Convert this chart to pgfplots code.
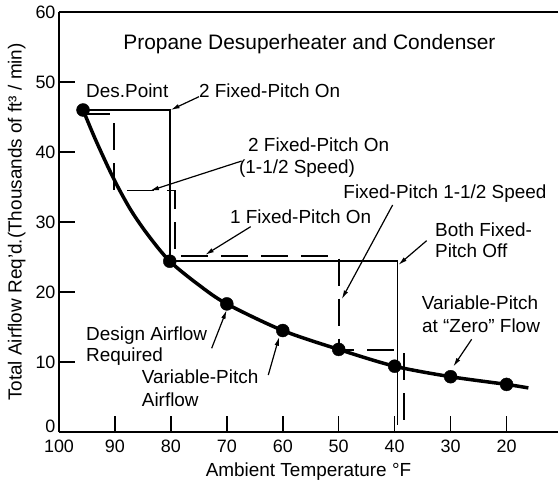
\documentclass[border=0pt]{standalone}
\usepackage{fontspec}
\setmainfont{Liberation Sans}
\usepackage{pgfplots}
\usepackage{pgfplotstable}
\pgfplotsset{compat=1.18}
\usetikzlibrary{arrows.meta}

\pgfplotstableread{
x y
95.7 46.0
93.6 42.0
91.2 37.8
89.4 34.9
87.0 31.5
84.0 28.05
80.2 24.4
75 21.0
70 18.3
60 14.5
50 11.8
40 9.4
30 7.9
20 6.8
16.1 6.3
}\curvedata

\pgfplotstableread{
x y
95.7 46.0
80.2 24.4
70 18.3
60 14.5
50 11.8
40 9.4
30 7.9
20 6.8
}\markdata

\pgfplotstableread{
x y
95.7 46.0
80.1 46.0
80.1 24.4
39.5 24.4
39.5 1.0
}\soliddata

\pgfplotstableread{
x y
95.7 45.4
90.2 45.4
90.2 34.5
79.3 34.5
79.3 25.1
50.0 25.1
50.0 11.7
38.3 11.7
38.3 1.5
}\dashdata

\newcommand{\ann}{\fontsize{19}{22}\selectfont}

\begin{document}
\begin{tikzpicture}
\begin{axis}[
  scale only axis, width=499bp, height=420bp,
  x dir=reverse, xmin=10.8, xmax=100, ymin=0, ymax=60,
  xtick={20,30,...,100}, ytick={10,20,...,60},
  extra y ticks={0},
  extra y tick style={yticklabel style={yshift=6bp}},
  separate axis lines,
  axis x line*=box, axis y line*=left,
  x axis line style={-}, y axis line style={-},
  axis line style={line width=1.8bp, black},
  xtick pos=bottom, ytick pos=left,
  tick align=inside,
  major tick length=16bp,
  tick style={line width=1.5bp, black},
  /pgf/number format/assume math mode=true,
  tick label style={font=\fontsize{18}{20}\selectfont},
  xticklabel style={yshift=-4bp},
  xlabel={Ambient Temperature °F},
  ylabel={Total Airflow Req'd.(Thousands of ft³ / min)},
  label style={font=\fontsize{19}{22}\selectfont},
  xlabel style={at={(axis description cs:0.5,-0.1071)}, anchor=base},
  ylabel style={at={(axis description cs:-0.0747,0.5)}, anchor=base, rotate=0},
  clip=false,
]
\addplot[black, line width=1.7bp, dash pattern=on 27bp off 13bp] table[x=x,y=y] {\dashdata};
\addplot[black, line width=1.7bp] table[x=x,y=y] {\soliddata};
\addplot[black, line width=3.5bp, smooth, no marks] table[x=x,y=y] {\curvedata};
\addplot[only marks, mark=*, mark size=6.5bp, mark options={fill=black, draw=black}] table[x=x,y=y] {\markdata};

\begin{scope}[-{Latex[length=9bp,width=4.5bp]}, line width=1.2bp]
\draw (axis cs:74.98,47.9) -- (axis cs:80.04,46.0);
\draw (axis cs:67.35,38.71) -- (axis cs:83.74,34.47);
\draw (axis cs:65.74,29.33) -- (axis cs:73.91,25.29);
\draw (axis cs:40.36,32.43) -- (axis cs:49.47,18.96);
\draw (axis cs:34.28,27.33) -- (axis cs:39.36,23.86);
\draw (axis cs:26.24,13.24) -- (axis cs:29.53,9.33);
\draw (axis cs:72.71,11.96) -- (axis cs:70.03,17.43);
\draw (axis cs:62.59,8.14) -- (axis cs:60.63,13.61);
\end{scope}

\node[anchor=base, inner sep=0, font=\fontsize{21}{24}\selectfont] at (axis cs:55.23,54.67) {Propane Desuperheater and Condenser};
\begin{scope}[every node/.style={anchor=base west, inner sep=0, font=\ann}]
\node at (axis cs:95.17,47.81) {Des.Point};
\node at (axis cs:74.98,47.81) {2 Fixed-Pitch On};
\node at (axis cs:66.22,40.04) {2 Fixed-Pitch On};
\node at (axis cs:67.83,36.96) {(1-1/2 Speed)};
\node at (axis cs:69.44,29.81) {1 Fixed-Pitch On};
\node at (axis cs:49.19,33.39) {Fixed-Pitch 1-1/2 Speed};
\node at (axis cs:32.80,28.0) {Both Fixed-};
\node at (axis cs:32.80,24.96) {Pitch Off};
\node at (axis cs:35.18,17.43) {Variable-Pitch};
\node at (axis cs:35.12,14.19) {at ``Zero'' Flow};
\node at (axis cs:95.17,13.14) {Design Airflow};
\node at (axis cs:95.17,10.04) {Required};
\node at (axis cs:85.22,6.86) {Variable-Pitch};
\node at (axis cs:85.22,3.61) {Airflow};
\end{scope}
\end{axis}
\pgfresetboundingbox
\path ([shift={(-59bp,-53bp)}]current axis.south west) rectangle ([shift={(1bp,12bp)}]current axis.north east);
\end{tikzpicture}
\end{document}
